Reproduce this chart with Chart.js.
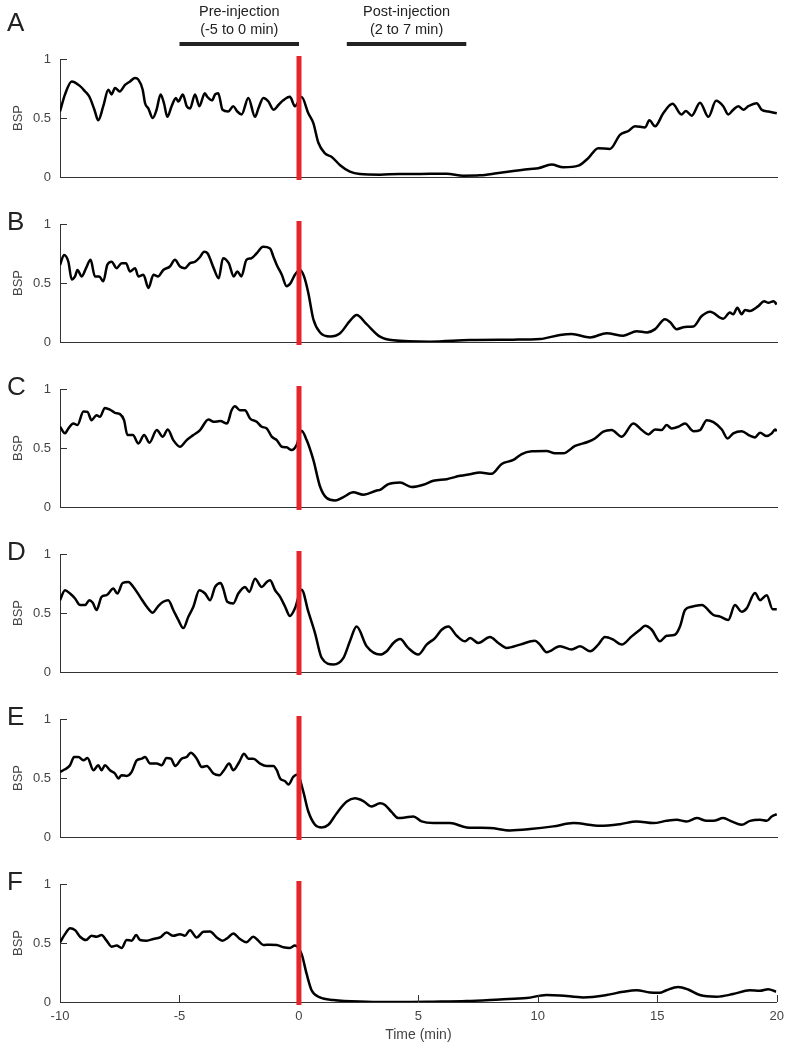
<!DOCTYPE html>
<html>
<head>
<meta charset="utf-8">
<script src="https://cdn.jsdelivr.net/npm/chart.js@4.4.0/dist/chart.umd.min.js"></script>
<style>
  html, body { margin: 0; padding: 0; background: #fff; }
  #wrap { position: relative; width: 791px; height: 1050px; overflow: hidden; }
  canvas { position: absolute; left: 0; }
</style>
</head>
<body>
<div id="wrap">
  <canvas id="cA" width="791" height="195" style="top:0px"></canvas>
  <canvas id="cB" width="791" height="154" style="top:206px"></canvas>
  <canvas id="cC" width="791" height="154" style="top:371px"></canvas>
  <canvas id="cD" width="791" height="154" style="top:536px"></canvas>
  <canvas id="cE" width="791" height="154" style="top:701px"></canvas>
  <canvas id="cF" width="791" height="184" style="top:866px"></canvas>
</div>
<script>
// ---- data (time in min, BSP) ----
const timeA = [-10,-9.79,-9.51,-9.16,-8.95,-8.77,-8.56,-8.4,-8.19,-7.98,-7.84,-7.7,-7.5,-7.28,-7.07,-6.86,-6.72,-6.54,-6.44,-6.3,-6.12,-5.96,-5.79,-5.65,-5.51,-5.33,-5.15,-5.05,-4.86,-4.7,-4.56,-4.35,-4.17,-3.94,-3.84,-3.64,-3.51,-3.38,-3.2,-2.96,-2.75,-2.58,-2.4,-2.12,-1.84,-1.7,-1.49,-1.28,-1.07,-0.86,-0.66,-0.38,-0.17,0.11,0.39,0.6,0.81,1.09,1.37,1.72,2.13,2.55,3.39,4.2,4.78,6.18,6.87,7.57,8.27,8.97,9.67,10.01,10.57,11.06,11.69,12.1,12.52,13.01,13.43,13.78,14.06,14.48,14.66,14.9,15.24,15.63,16.0,16.19,16.43,16.78,17.13,17.45,17.75,17.96,18.17,18.38,18.59,18.8,19.15,19.36,19.64,19.99];
const bspA = [0.555,0.70,0.81,0.77,0.725,0.68,0.57,0.48,0.60,0.74,0.70,0.755,0.725,0.78,0.81,0.84,0.825,0.74,0.625,0.58,0.50,0.57,0.70,0.625,0.51,0.60,0.67,0.64,0.70,0.60,0.58,0.70,0.60,0.71,0.68,0.65,0.70,0.71,0.57,0.555,0.60,0.555,0.53,0.67,0.51,0.58,0.67,0.64,0.57,0.61,0.65,0.68,0.60,0.677,0.54,0.456,0.29,0.20,0.17,0.10,0.045,0.025,0.02,0.025,0.025,0.028,0.011,0.014,0.031,0.05,0.068,0.074,0.105,0.082,0.096,0.159,0.244,0.238,0.357,0.39,0.43,0.42,0.48,0.43,0.54,0.62,0.53,0.56,0.52,0.63,0.51,0.646,0.60,0.53,0.57,0.60,0.57,0.60,0.626,0.57,0.555,0.54];

const timeB = [-10,-9.83,-9.65,-9.51,-9.37,-9.27,-9.09,-8.91,-8.72,-8.54,-8.36,-8.19,-8.02,-7.84,-7.63,-7.42,-7.24,-7.07,-6.86,-6.72,-6.51,-6.3,-6.09,-5.89,-5.68,-5.4,-5.19,-4.98,-4.77,-4.56,-4.35,-4.14,-3.97,-3.82,-3.57,-3.36,-3.18,-2.94,-2.73,-2.58,-2.41,-2.2,-1.99,-1.78,-1.5,-1.21,-1.07,-0.93,-0.72,-0.52,-0.35,-0.17,0.04,0.21,0.39,0.6,0.88,1.3,1.72,2.13,2.41,2.83,3.39,3.95,5.48,7.15,8.97,10.08,10.92,11.41,12.18,12.87,13.57,14.13,14.55,14.9,15.31,15.52,15.8,16.15,16.5,16.85,17.2,17.75,18.03,18.17,18.34,18.52,18.66,18.87,19.22,19.46,19.64,19.85,19.99];
const bspB = [0.653,0.737,0.68,0.53,0.556,0.61,0.556,0.626,0.696,0.556,0.556,0.514,0.654,0.68,0.626,0.668,0.668,0.598,0.626,0.556,0.57,0.458,0.57,0.556,0.61,0.64,0.696,0.64,0.626,0.668,0.68,0.72,0.765,0.75,0.626,0.54,0.71,0.668,0.556,0.598,0.556,0.696,0.71,0.75,0.807,0.793,0.723,0.653,0.57,0.472,0.50,0.57,0.61,0.556,0.416,0.193,0.081,0.047,0.075,0.179,0.229,0.151,0.045,0.014,0.003,0.017,0.02,0.025,0.059,0.067,0.039,0.075,0.053,0.092,0.081,0.109,0.193,0.17,0.109,0.128,0.131,0.22,0.257,0.198,0.249,0.235,0.29,0.235,0.271,0.263,0.304,0.346,0.332,0.346,0.318];

const timeC = [-10,-9.79,-9.65,-9.44,-9.27,-9.02,-8.85,-8.68,-8.47,-8.33,-8.12,-7.91,-7.7,-7.49,-7.32,-7.18,-6.95,-6.72,-6.48,-6.26,-5.95,-5.7,-5.49,-5.26,-4.98,-4.7,-4.42,-4.14,-3.79,-3.57,-3.29,-3.01,-2.82,-2.68,-2.47,-2.26,-2.05,-1.77,-1.56,-1.35,-1.14,-0.93,-0.72,-0.52,-0.31,-0.1,0.11,0.32,0.6,0.88,1.16,1.51,1.86,2.27,2.69,3.25,3.39,3.74,4.23,4.71,5.2,5.62,6.18,6.74,7.15,7.57,8.06,8.48,8.97,9.32,9.74,10.36,10.71,11.06,11.55,12.1,12.38,12.73,13.08,13.5,13.99,14.34,14.62,14.9,15.17,15.38,15.59,15.87,16.15,16.5,16.78,17.06,17.34,17.69,17.93,18.17,18.52,18.87,19.08,19.29,19.57,19.78,19.92,19.99];
const bspC = [0.68,0.624,0.666,0.708,0.694,0.81,0.806,0.736,0.778,0.764,0.84,0.826,0.798,0.787,0.736,0.61,0.61,0.539,0.61,0.545,0.652,0.596,0.657,0.567,0.511,0.567,0.61,0.652,0.742,0.722,0.728,0.708,0.82,0.854,0.82,0.82,0.75,0.722,0.68,0.666,0.596,0.567,0.511,0.506,0.483,0.525,0.646,0.567,0.399,0.174,0.076,0.056,0.084,0.124,0.104,0.14,0.146,0.194,0.208,0.169,0.188,0.222,0.236,0.264,0.278,0.292,0.281,0.365,0.399,0.449,0.472,0.475,0.455,0.455,0.517,0.553,0.581,0.638,0.652,0.596,0.708,0.652,0.615,0.657,0.652,0.694,0.666,0.68,0.708,0.643,0.652,0.736,0.719,0.657,0.581,0.624,0.643,0.604,0.59,0.629,0.601,0.624,0.657,0.643];

const timeD = [-10,-9.79,-9.58,-9.37,-9.16,-8.95,-8.77,-8.63,-8.47,-8.26,-8.05,-7.77,-7.6,-7.38,-7.14,-6.93,-6.65,-6.37,-6.12,-5.89,-5.68,-5.47,-5.26,-5.05,-4.84,-4.63,-4.42,-4.17,-3.93,-3.72,-3.51,-3.28,-3.17,-3.0,-2.75,-2.54,-2.26,-2.08,-1.84,-1.56,-1.35,-1.21,-1.0,-0.79,-0.58,-0.38,-0.17,0.11,0.39,0.67,0.95,1.44,1.86,2.13,2.41,2.83,3.39,3.67,3.95,4.23,4.57,4.99,5.34,5.69,5.97,6.25,6.6,6.95,7.16,7.5,7.99,8.34,8.69,9.25,9.87,10.08,10.36,10.92,11.41,11.76,12.18,12.52,12.8,13.15,13.5,13.92,14.27,14.48,14.76,15.1,15.38,15.73,15.94,16.15,16.43,16.85,17.34,17.62,17.96,18.24,18.52,18.73,19.08,19.29,19.57,19.82,19.99];
const bspD = [0.609,0.693,0.665,0.623,0.567,0.567,0.609,0.587,0.525,0.637,0.651,0.707,0.665,0.754,0.763,0.721,0.637,0.553,0.503,0.559,0.595,0.609,0.525,0.441,0.372,0.469,0.553,0.693,0.665,0.609,0.721,0.754,0.707,0.595,0.581,0.665,0.721,0.679,0.791,0.721,0.763,0.777,0.693,0.637,0.553,0.475,0.539,0.698,0.511,0.33,0.12,0.064,0.12,0.26,0.385,0.218,0.148,0.176,0.246,0.279,0.204,0.148,0.232,0.288,0.358,0.385,0.307,0.26,0.288,0.246,0.296,0.246,0.204,0.232,0.265,0.232,0.168,0.218,0.19,0.218,0.176,0.232,0.296,0.274,0.232,0.302,0.358,0.391,0.358,0.26,0.307,0.316,0.385,0.525,0.553,0.567,0.483,0.469,0.441,0.567,0.511,0.539,0.67,0.609,0.651,0.531,0.531];

const timeE = [-10,-9.79,-9.58,-9.41,-9.23,-9.02,-8.85,-8.6,-8.4,-8.26,-8.12,-7.91,-7.7,-7.56,-7.42,-7.21,-7.0,-6.79,-6.58,-6.44,-6.23,-5.95,-5.75,-5.54,-5.36,-5.18,-4.91,-4.7,-4.53,-4.28,-4.07,-3.86,-3.58,-3.33,-3.14,-2.92,-2.75,-2.5,-2.3,-2.12,-1.91,-1.63,-1.35,-1.07,-0.93,-0.79,-0.58,-0.44,-0.24,-0.06,0.18,0.39,0.67,0.95,1.23,1.58,2.0,2.34,2.69,3.04,3.39,3.6,3.88,4.16,4.44,4.78,5.13,5.62,6.32,7.02,7.99,8.83,9.67,10.64,11.48,12.6,13.43,14.13,14.83,15.38,15.8,16.22,16.64,17.06,17.34,17.75,18.1,18.52,18.87,19.29,19.57,19.78,19.99];
const bspE = [0.552,0.574,0.608,0.678,0.678,0.65,0.669,0.566,0.608,0.566,0.608,0.566,0.538,0.496,0.524,0.518,0.552,0.65,0.664,0.678,0.622,0.622,0.608,0.669,0.664,0.602,0.664,0.678,0.714,0.664,0.594,0.602,0.538,0.524,0.566,0.622,0.566,0.636,0.706,0.664,0.664,0.622,0.602,0.602,0.566,0.496,0.473,0.445,0.51,0.529,0.384,0.216,0.104,0.081,0.104,0.202,0.3,0.328,0.305,0.258,0.286,0.272,0.21,0.16,0.165,0.174,0.132,0.118,0.118,0.081,0.076,0.056,0.067,0.09,0.118,0.095,0.109,0.132,0.118,0.137,0.146,0.132,0.16,0.137,0.137,0.16,0.132,0.104,0.137,0.146,0.137,0.174,0.193];

const timeF = [-10,-9.79,-9.58,-9.37,-9.16,-8.91,-8.68,-8.47,-8.26,-8.05,-7.84,-7.63,-7.42,-7.21,-7.0,-6.81,-6.65,-6.37,-6.09,-5.81,-5.54,-5.26,-4.98,-4.77,-4.56,-4.28,-4.0,-3.72,-3.44,-3.2,-2.96,-2.75,-2.47,-2.2,-1.91,-1.7,-1.49,-1.21,-0.93,-0.65,-0.38,-0.17,0.11,0.32,0.53,0.88,1.44,2.83,4.23,5.62,7.02,8.41,9.53,10.36,10.92,11.9,12.87,13.57,14.13,14.69,15.1,15.38,15.87,16.29,16.78,17.48,18.17,18.87,19.29,19.64,19.97];
const bspF = [0.506,0.575,0.626,0.609,0.553,0.525,0.561,0.553,0.567,0.52,0.469,0.478,0.458,0.525,0.52,0.567,0.525,0.52,0.534,0.547,0.589,0.561,0.575,0.561,0.609,0.547,0.595,0.598,0.547,0.52,0.547,0.581,0.534,0.506,0.553,0.52,0.483,0.486,0.483,0.464,0.458,0.478,0.408,0.24,0.1,0.039,0.017,0.003,0.0,0.003,0.008,0.022,0.034,0.059,0.056,0.039,0.059,0.087,0.1,0.081,0.078,0.1,0.128,0.106,0.059,0.045,0.067,0.1,0.095,0.109,0.087];

const yTickValues = [0.5, 1];
const xTickValues = [-5, 0, 5, 10, 15, 20];
const periods = [
  {label: ['Pre-injection', '(-5 to 0 min)'], from: -5, to: 0},
  {label: ['Post-injection', '(2 to 7 min)'], from: 2, to: 7}
];

const FONT = "'Liberation Sans', Arial, sans-serif";
const AXIS = '#333';
const TEXT = '#444';
const RED = '#e5242b';

// draws inward ticks, the injection marker, panel letter and period bars
const decor = {
  id: 'decor',
  afterDatasetsDraw(chart, args, opts) {
    const {ctx, chartArea: a, scales: {x, y}} = chart;
    ctx.save();
    ctx.strokeStyle = AXIS;
    ctx.lineWidth = 1;
    yTickValues.forEach(v => {
      const py = Math.round(y.getPixelForValue(v)) + 0.5;
      ctx.beginPath(); ctx.moveTo(a.left, py); ctx.lineTo(a.left + 7, py); ctx.stroke();
    });
    if (opts.xTicks) {
      xTickValues.forEach(v => {
        const px = Math.round(x.getPixelForValue(v)) + 0.5;
        ctx.beginPath(); ctx.moveTo(px, a.bottom); ctx.lineTo(px, a.bottom - 7); ctx.stroke();
      });
    }
    const x0 = x.getPixelForValue(0);
    ctx.fillStyle = RED;
    ctx.fillRect(x0 - 2.5, a.top - 3, 5, a.bottom - a.top + 6);

    ctx.fillStyle = '#222';
    ctx.font = '26px ' + FONT;
    ctx.textBaseline = 'alphabetic';
    ctx.textAlign = 'left';
    ctx.fillText(opts.letter, 7, a.top + opts.letterDy);

    if (opts.periods) {
      ctx.font = '14.5px ' + FONT;
      ctx.textAlign = 'center';
      ctx.textBaseline = 'middle';
      periods.forEach(p => {
        const x1 = x.getPixelForValue(p.from), x2 = x.getPixelForValue(p.to);
        ctx.fillStyle = '#222';
        ctx.fillText(p.label[0], (x1 + x2) / 2, 12);
        ctx.fillText(p.label[1], (x1 + x2) / 2, 30);
        ctx.fillRect(x1, 42, x2 - x1, 4);
      });
    }
    ctx.restore();
  }
};

const panels = [
  {canvas: 'cA', letter: 'A', time: timeA, bsp: bspA, padTop: 59, letterDy: -28, periods: true},
  {canvas: 'cB', letter: 'B', time: timeB, bsp: bspB, padTop: 18, letterDy: 6},
  {canvas: 'cC', letter: 'C', time: timeC, bsp: bspC, padTop: 18, letterDy: 6},
  {canvas: 'cD', letter: 'D', time: timeD, bsp: bspD, padTop: 18, letterDy: 6},
  {canvas: 'cE', letter: 'E', time: timeE, bsp: bspE, padTop: 18, letterDy: 6},
  {canvas: 'cF', letter: 'F', time: timeF, bsp: bspF, padTop: 18, letterDy: 6, bottom: true}
];

panels.forEach(p => {
  const xScale = {
    type: 'linear', min: -10, max: 20,
    grid: {display: false, drawTicks: false},
    border: {display: true, color: AXIS, width: 1},
    ticks: {display: false},
    afterFit: s => { s.height = 18; }
  };
  if (p.bottom) {
    xScale.ticks = {
      display: true, stepSize: 5, autoSkip: false, maxRotation: 0, padding: 7,
      color: TEXT, font: {family: FONT, size: 13},
      callback: v => String(v)
    };
    xScale.title = {display: true, text: 'Time (min)', color: TEXT,
      font: {family: FONT, size: 14}, padding: {top: 0, bottom: 6}};
    xScale.afterFit = s => { s.height = 48; };
  }

  new Chart(document.getElementById(p.canvas), {
    type: 'line',
    data: {
      datasets: [{
        data: p.time.map((t, i) => ({x: t, y: p.bsp[i]})),
        borderColor: '#000',
        borderWidth: 2.5,
        pointRadius: 0,
        cubicInterpolationMode: 'monotone'
      }]
    },
    options: {
      responsive: false,
      animation: false,
      layout: {padding: {top: p.padTop, right: 14, bottom: 0, left: 0}},
      scales: {
        x: xScale,
        y: {
          min: 0, max: 1,
          grid: {display: false, drawTicks: false},
          border: {display: true, color: AXIS, width: 1},
          ticks: {stepSize: 0.5, padding: 9, color: TEXT, font: {family: FONT, size: 13},
            callback: v => String(v)},
          title: {display: true, text: 'BSP', color: TEXT,
            font: {family: FONT, size: 13}, padding: {top: 11, bottom: 0}},
          afterFit: s => { s.width = 60; }
        }
      },
      plugins: {
        legend: {display: false},
        tooltip: {enabled: false},
        decor: {letter: p.letter, letterDy: p.letterDy, periods: !!p.periods, xTicks: !!p.bottom}
      }
    },
    plugins: [decor]
  });
});
</script>
</body>
</html>
